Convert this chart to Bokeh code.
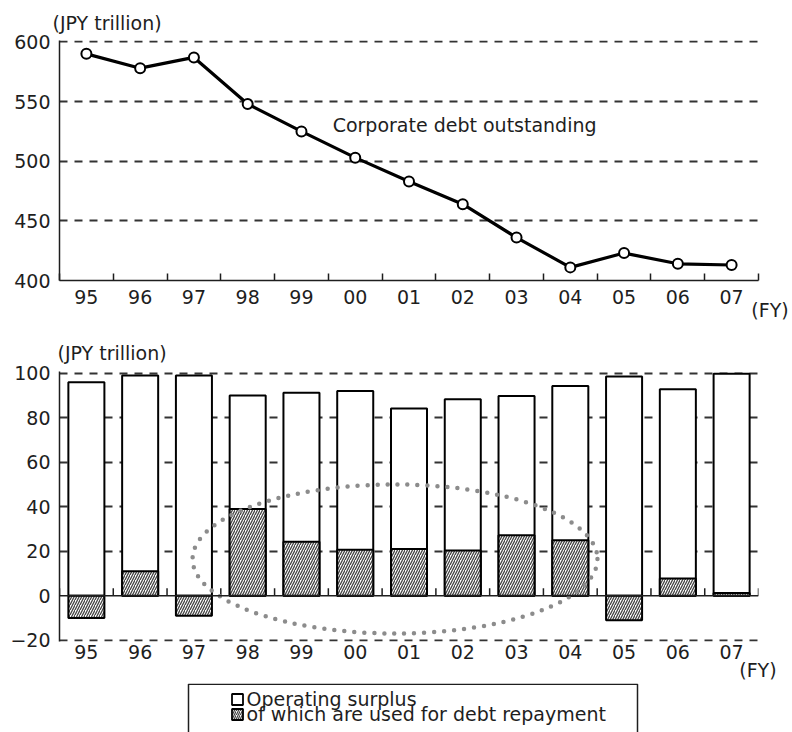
from bokeh.plotting import figure
from bokeh.models import Range1d, FixedTicker, Span, Label, Title, LinearAxis
from bokeh.layouts import column
from bokeh.embed import file_html
from bokeh.resources import INLINE
from bokeh.core.properties import value

# Fiscal years (category labels)
years = ["95", "96", "97", "98", "99", "00", "01", "02", "03", "04", "05", "06", "07"]

# Corporate debt outstanding, JPY trillion
debt_outstanding = [590, 578, 587, 548, 525, 503, 483, 464, 436, 411, 423, 414, 413]

# Operating surplus and the part used for debt repayment, JPY trillion
operating_surplus = [96, 99, 99, 90, 91.3, 92, 84.2, 88.3, 89.8, 94.3, 98.5, 92.8, 99.8]
debt_repayment = [-10, 11, -9, 39, 24.2, 20.7, 21, 20.3, 27.2, 24.9, -11, 7.7, 1.2]

top_ticks = [400, 450, 500, 550, 600]
bottom_ticks = [-20, 0, 20, 40, 60, 80, 100]

unit_label = "(JPY trillion)"
year_label = "(FY)"
line_label = "Corporate debt outstanding"
legend_labels = ["Operating surplus", "of which are used for debt repayment"]

FONT = "DejaVu Sans"
INK = "#1e1e1e"
GRID = "#333333"
HATCH = "#444444"
FS = "19px"
NBSP = "\u00a0"

xs = list(range(len(years)))
bounds = [i + 0.5 for i in range(-1, len(years))]
overrides = {i: y for i, y in enumerate(years)}
FY_TICK = 12.49


def style_axes(p, yticks, grid_ticks, label_standoff):
    p.outline_line_color = None
    p.xgrid.visible = False
    p.ygrid.ticker = FixedTicker(ticks=grid_ticks)
    p.ygrid.grid_line_color = GRID
    p.ygrid.grid_line_dash = "8 7"
    p.ygrid.grid_line_width = 1.8

    ax = p.yaxis[0]
    ax.ticker = FixedTicker(ticks=yticks)
    ax.major_tick_in = 0
    ax.major_tick_out = 0
    ax.minor_tick_in = 0
    ax.minor_tick_out = 0
    ax.axis_line_color = INK
    ax.axis_line_width = 1.5
    ax.major_label_standoff = 9
    ax.major_label_text_font = FONT
    ax.major_label_text_font_size = FS
    ax.major_label_text_color = INK

    bx = p.xaxis[0]
    bx.ticker = FixedTicker(ticks=xs, minor_ticks=bounds)
    bx.major_label_overrides = overrides
    bx.major_tick_in = 0
    bx.major_tick_out = 0
    bx.major_label_standoff = label_standoff
    bx.major_label_text_font = FONT
    bx.major_label_text_font_size = FS
    bx.major_label_text_color = INK


def unit_axis(text, standoff):
    # a second, line-less axis that only carries the "(FY)" unit label
    return LinearAxis(ticker=FixedTicker(ticks=[FY_TICK], minor_ticks=[]),
                      major_label_overrides={FY_TICK: text},
                      axis_line_color=None, major_tick_in=0, major_tick_out=0,
                      minor_tick_in=0, minor_tick_out=0,
                      major_label_standoff=standoff, major_label_text_font=FONT,
                      major_label_text_font_size=FS, major_label_text_color=INK)


def unit_title(text, offset, standoff):
    return Title(text=text, align="left", offset=offset, standoff=standoff,
                 vertical_align="middle", text_font=FONT, text_font_size=FS,
                 text_font_style="normal", text_color=INK)


# ---- upper panel: debt outstanding line ----
p1 = figure(width=792, height=330, x_range=Range1d(-0.5, 12.5), y_range=Range1d(400, 601.2),
            output_backend="svg", toolbar_location=None,
            min_border_left=59, min_border_right=34, min_border_top=40, min_border_bottom=50)
style_axes(p1, top_ticks, [450, 500, 550, 600], 9)
ax1 = p1.xaxis[0]
ax1.minor_tick_in = 7
ax1.minor_tick_out = 0
ax1.minor_tick_line_color = INK
ax1.minor_tick_line_width = 1.5
ax1.axis_line_color = INK
ax1.axis_line_width = 1.5

p1.line(xs, debt_outstanding, line_color="black", line_width=3.2)
p1.scatter(xs, debt_outstanding, marker="circle", size=10, fill_color="white",
           line_color="black", line_width=2)

p1.add_layout(Label(x=4.58, y=530, text=line_label, text_baseline="middle",
                    text_font=FONT, text_font_size=FS, text_color=INK))
p1.add_layout(unit_title(unit_label, -7, 12), "above")
p1.add_layout(unit_axis(NBSP * 4 + year_label, -8), "below")

# ---- lower panel: operating surplus bars ----
p2 = figure(width=792, height=353, x_range=Range1d(-0.5, 12.5), y_range=Range1d(-20.6, 100.8),
            output_backend="svg", toolbar_location=None,
            min_border_left=59, min_border_right=34, min_border_top=41, min_border_bottom=42)
style_axes(p2, bottom_ticks, [-20, 20, 40, 60, 80, 100], 3)
ax2 = p2.xaxis[0]
ax2.axis_line_color = None
ax2.minor_tick_in = 0
ax2.minor_tick_out = 0
ax2.minor_tick_line_color = None

p2.vbar(x=xs, bottom=0, top=operating_surplus, width=0.67, fill_color="white",
        line_color="black", line_width=2)
p2.vbar(x=xs, bottom=0, top=debt_repayment, width=0.67, fill_color="white",
        hatch_pattern="/", hatch_color=HATCH, hatch_scale=5, hatch_weight=1.3,
        line_color="black", line_width=2)

p2.add_layout(Span(location=0, dimension="width", line_color=INK, line_width=1.5))
# short category separators rising from the zero line
p2.segment(x0=bounds, y0=[0] * len(bounds), x1=bounds, y1=[3.3] * len(bounds),
           line_color=INK, line_width=1.5)

# dotted ellipse highlighting FY98-FY04
p2.ellipse(x=[5.74], y=[16.5], width=[7.53], height=[67], fill_color=None,
           line_color="#8c8c8c", line_width=4.5, line_dash="0 10", line_cap="round")

p2.add_layout(unit_title(unit_label, -2, 14), "above")
p2.add_layout(unit_axis(year_label, -3), "below")

# ---- legend strip ----
p3 = figure(width=792, height=49, x_range=Range1d(59, 758), y_range=Range1d(49, 0),
            output_backend="svg", toolbar_location=None,
            x_axis_location=None, y_axis_location=None,
            min_border_left=59, min_border_right=34, min_border_top=0, min_border_bottom=0)
p3.outline_line_color = None
p3.grid.visible = False
p3.quad(left=[188], right=[637], top=[0.75], bottom=[80], fill_color=None,
        line_color=INK, line_width=1.5)
p3.rect(x=[237], y=[16], width=[11], height=[11], fill_color="white",
        line_color="black", line_width=1.8)
p3.rect(x=[237], y=[31], width=[11], height=[11], fill_color="white",
        hatch_pattern="/", hatch_color=HATCH, hatch_scale=4, hatch_weight=1.2,
        line_color="black", line_width=1.8)
p3.text(x=[246, 246], y=[15, 30], text=legend_labels, text_baseline="middle",
        text_font=value(FONT), text_font_size=FS, text_color=INK)

layout = column(p1, p2, p3, spacing=0)
open("out.html", "w").write(file_html(layout, INLINE))
